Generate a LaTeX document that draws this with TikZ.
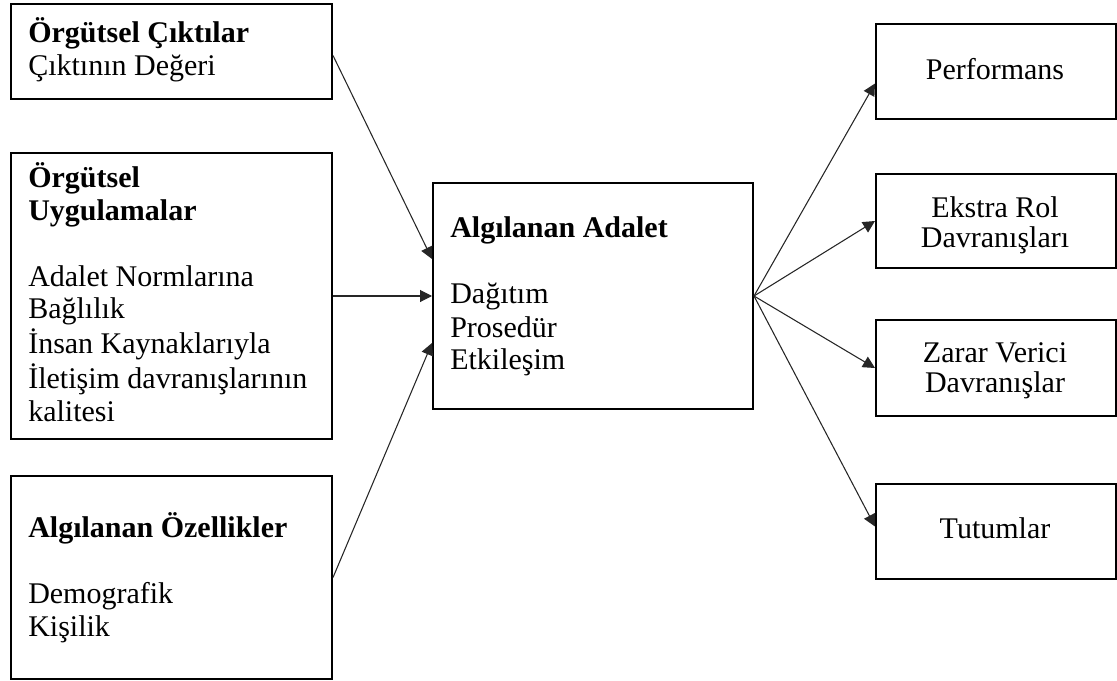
\documentclass[tikz,border=0pt]{standalone}
\usepackage{fontspec}
\setmainfont{Liberation Serif}
\usetikzlibrary{arrows.meta,calc}
% stacked lines of text, baseline at the first line
\newcommand\leftlines[1]{{\fontsize{22.5}{24.75}\selectfont\begin{tabular}[t]{@{}l@{}}#1\end{tabular}}}
\newcommand\midlines[1]{{\fontsize{22.5}{22.9}\selectfont\begin{tabular}[t]{@{}c@{}}#1\end{tabular}}}
\begin{document}
\begin{tikzpicture}[x=0.75pt,y=-0.75pt,
  box/.style={draw=black,line width=1.5pt,inner sep=0pt,anchor=north west},
  txt/.style={inner sep=0pt,anchor=base west},
  ctxt/.style={inner sep=0pt,anchor=base},
  link/.style={draw=black!85,line width=0.8pt,-{Triangle[length=9pt,width=9pt]}}]
\useasboundingbox (0,0) rectangle (1117,681);

% left column: sources of perceived justice
\node[box,minimum width=321*0.75pt,minimum height=95*0.75pt] (b1) at (10,3) {};
\node[box,minimum width=321*0.75pt,minimum height=286*0.75pt] (b2) at (10,152) {};
\node[box,minimum width=321*0.75pt,minimum height=203*0.75pt] (b3) at (10,475) {};

% centre box
\node[box,minimum width=320*0.75pt,minimum height=226*0.75pt] (c) at (432,182) {};

% right column: outcomes
\node[box,minimum width=240*0.75pt,minimum height=95*0.75pt] (r1) at (875,23) {};
\node[box,minimum width=240*0.75pt,minimum height=94*0.75pt] (r2) at (875,173) {};
\node[box,minimum width=240*0.75pt,minimum height=96*0.75pt] (r3) at (875,319) {};
\node[box,minimum width=240*0.75pt,minimum height=95*0.75pt] (r4) at (875,483) {};

% texts
\node[txt] (t1) at (28,43) {\leftlines{\textbf{Örgütsel Çıktılar}\\Çıktının Değeri}};
\node[txt] (t2) at (28,187) {\leftlines{\textbf{Örgütsel}\\\textbf{Uygulamalar}\\ \\Adalet Normlarına\\Bağlılık\\İnsan Kaynaklarıyla\\İletişim davranışlarının\\kalitesi}};
\node[txt] (t3) at (28,537) {\leftlines{\textbf{Algılanan Özellikler}\\ \\Demografik\\Kişilik}};
\node[txt] (tc) at (450,238) {\leftlines{\textbf{Algılanan Adalet}\\ \\Dağıtım\\Prosedür\\Etkileşim}};

\node[ctxt] (u1) at (995,80) {\midlines{Performans}};
\node[ctxt] (u2) at (995,217) {\midlines{Ekstra Rol\\Davranışları}};
\node[ctxt] (u3) at (995,362) {\midlines{Zarar Verici\\Davranışlar}};
\node[ctxt] (u4) at (995,538) {\midlines{Tutumlar}};

% connectors
\draw[link] ($(b1.east)+(0,4)$) -- ($(c.west)+(0,-37)$);
\draw[link] (b2.east) -- (c.west);
\draw[link] (b3.east) -- ($(c.west)+(0,47)$);
\draw[link] (c.east) -- ($(r1.west)+(0,12)$);
\draw[link] (c.east) -- (r2.west);
\draw[link] (c.east) -- (r3.west);
\draw[link] (c.east) -- ($(r4.west)+(0,-5)$);
\end{tikzpicture}
\end{document}
